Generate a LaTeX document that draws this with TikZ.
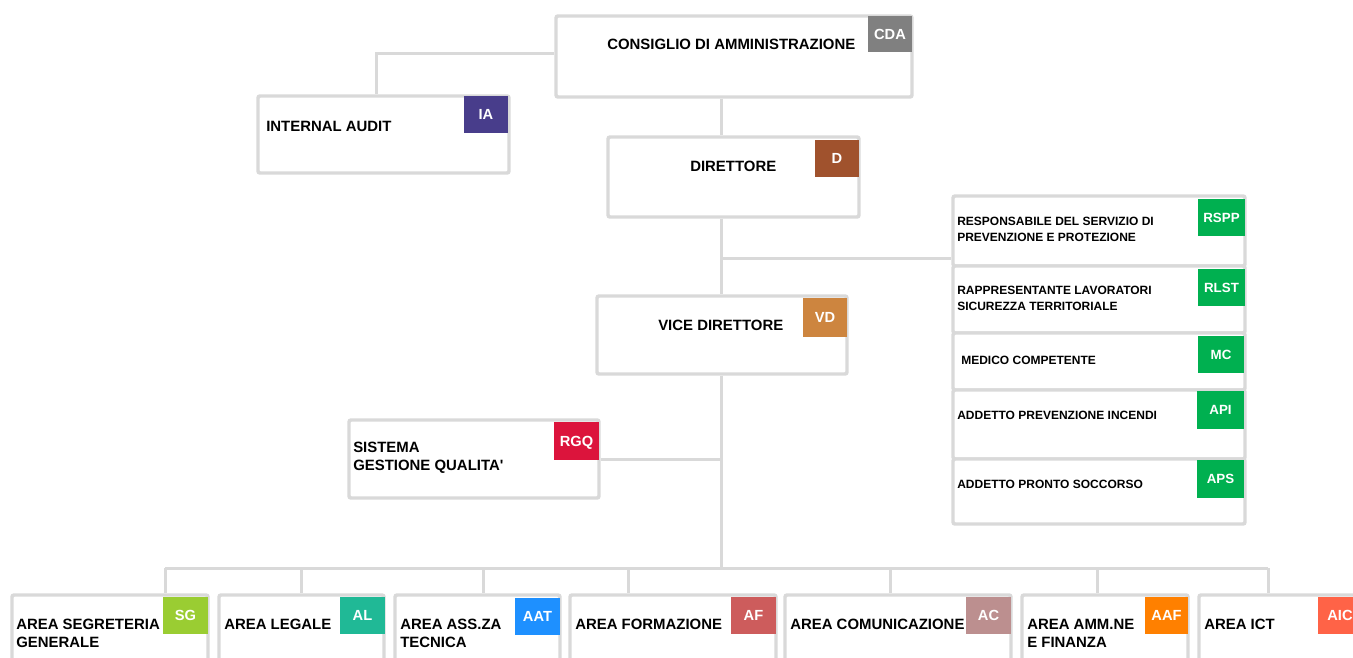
\documentclass[tikz,border=0pt]{standalone}
\usepackage{fontspec}
\setmainfont{Liberation Sans}[Ligatures=TeXOff]
\usetikzlibrary{fit}
\definecolor{linegray}{HTML}{D9D9D9}
\definecolor{ccda}{HTML}{808080}
\definecolor{cia}{HTML}{483D8B}
\definecolor{cd}{HTML}{A0522D}
\definecolor{cvd}{HTML}{CD853F}
\definecolor{crgq}{HTML}{DC143C}
\definecolor{cgreen}{HTML}{00B050}
\definecolor{csg}{HTML}{9ACD32}
\definecolor{cal}{HTML}{20B996}
\definecolor{caat}{HTML}{1E90FF}
\definecolor{caf}{HTML}{CD5C5C}
\definecolor{cac}{HTML}{BC8F8F}
\definecolor{caaf}{HTML}{FF8000}
\definecolor{caic}{HTML}{FF6347}
\begin{document}
\begin{tikzpicture}[x=0.75pt,y=-0.75pt,
  box/.style={draw=linegray, line width=2.6pt, rounded corners=1.5pt, fill=white, inner sep=0pt},
  tag/.style={inner sep=0pt, text=white, text depth=0pt, anchor=center, minimum width=33pt, minimum height=27.75pt, font=\fontsize{11}{13}\selectfont\bfseries},
  rtag/.style={tag, minimum width=35.25pt, font=\fontsize{10}{12}\selectfont\bfseries},
  lbl/.style={inner sep=0pt, anchor=west, align=left, font=\fontsize{11.2}{13.5}\selectfont\bfseries},
  slbl/.style={lbl, font=\fontsize{9}{12}\selectfont\bfseries},
  conn/.style={draw=linegray, line width=2.25pt}]
\useasboundingbox (0,0) rectangle (1353,657);
\fill[white] (0,0) rectangle (1353,657);
\clip (0,0) rectangle (1353,657);

% boxes
\node[box, fit={(556,16) (912,97)}] (cda) {};
\node[box, fit={(258,96) (509,173)}] (ia) {};
\node[box, fit={(608,137) (859,217)}] (d) {};
\node[box, fit={(597,296) (847,374)}] (vd) {};
\node[box, fit={(349,420) (599,498)}] (rgq) {};
\node[box, fit={(953,196) (1245,266)}] (rspp) {};
\node[box, fit={(953,266) (1245,333)}] (rlst) {};
\node[box, fit={(953,333) (1245,390)}] (mc) {};
\node[box, fit={(953,390) (1245,459)}] (api) {};
\node[box, fit={(953,459) (1245,524)}] (aps) {};
\node[box, fit={(12,595) (208,690)}] (sg) {};
\node[box, fit={(219,595) (384,690)}] (al) {};
\node[box, fit={(395,595) (560,690)}] (aat) {};
\node[box, fit={(570,595) (776,690)}] (af) {};
\node[box, fit={(785,595) (1011,690)}] (ac) {};
\node[box, fit={(1022,595) (1188,690)}] (aaf) {};
\node[box, fit={(1199,595) (1362,690)}] (aic) {};

% tags
\node[tag, fill=ccda, minimum height=27pt] (cdatag) at (890,34) {CDA};
\node[tag, fill=cia] (iatag) at (486,114.5) {IA};
\node[tag, fill=cd] (dtag) at (837,158.5) {D};
\node[tag, fill=cvd, minimum height=29.25pt] (vdtag) at (825,317.5) {VD};
\node[tag, fill=crgq, minimum width=33.75pt, minimum height=28.5pt] (rgqtag) at (576.5,441) {RGQ};
\node[rtag, fill=cgreen] (rspptag) at (1221.5,217.5) {RSPP};
\node[rtag, fill=cgreen] (rlsttag) at (1221.5,287.5) {RLST};
\node[rtag, fill=cgreen, minimum width=34.5pt] (mctag) at (1221,354.5) {MC};
\node[rtag, fill=cgreen, minimum height=28.5pt] (apitag) at (1220.5,410) {API};
\node[rtag, fill=cgreen, minimum height=28.5pt] (apstag) at (1220.5,479) {APS};
\node[tag, fill=csg, minimum width=33.75pt] (sgtag) at (185.5,615.5) {SG};
\node[tag, fill=cal, minimum width=33.75pt] (altag) at (362.5,615.5) {AL};
\node[tag, fill=caat, minimum width=33.75pt] (aattag) at (537.5,616.5) {AAT};
\node[tag, fill=caf, minimum width=33.75pt] (aftag) at (753.5,615.5) {AF};
\node[tag, fill=cac, minimum width=33.75pt] (actag) at (988.5,615.5) {AC};
\node[tag, fill=caaf, minimum width=32.25pt] (aaftag) at (1166.5,615.5) {AAF};
\node[tag, fill=caic] (aictag) at (1340,615.5) {AIC};

% labels
\node[lbl] (cdal) at (607,44) {CONSIGLIO DI AMMINISTRAZIONE};
\node[lbl] (ial) at (266,126) {INTERNAL AUDIT};
\node[lbl] (dl) at (690,166) {DIRETTORE};
\node[lbl] (vdl) at (658,325) {VICE DIRETTORE};
\node[lbl] (rgql) at (353,458) {SISTEMA\\GESTIONE QUALITA'};
\node[slbl] (rsppl) at (957,229) {RESPONSABILE DEL SERVIZIO DI\\PREVENZIONE E PROTEZIONE};
\node[slbl] (rlstl) at (957,298) {RAPPRESENTANTE LAVORATORI\\SICUREZZA TERRITORIALE};
\node[slbl] (mcl) at (961,360) {MEDICO COMPETENTE};
\node[slbl] (apil) at (957,415) {ADDETTO PREVENZIONE INCENDI};
\node[slbl] (apsl) at (957,484) {ADDETTO PRONTO SOCCORSO};
\node[lbl] (sgl) at (16,633) {AREA SEGRETERIA\\GENERALE};
\node[lbl] (all) at (224,624) {AREA LEGALE};
\node[lbl] (aatl) at (400,633) {AREA ASS.ZA\\TECNICA};
\node[lbl] (afl) at (575,624) {AREA FORMAZIONE};
\node[lbl] (acl) at (790,624) {AREA COMUNICAZIONE};
\node[lbl] (aafl) at (1027,633) {AREA AMM.NE\\E FINANZA};
\node[lbl] (aicl) at (1204,624) {AREA ICT};

% connectors
\coordinate (iaj) at (376,53);
\draw[conn] (cda.west |- iaj) -| (ia.north -| iaj);
\coordinate (tr) at (721,258);
\draw[conn] (cda.south -| tr) -- (d.north -| tr);
\draw[conn] (d.south -| tr) -- (vd.north -| tr);
\draw[conn] (tr) -- (tr -| rspp.west);
\coordinate (bus) at (721,568);
\draw[conn] (vd.south -| bus) -- (bus);
\draw[conn] (rgq.east) -- (rgq.east -| bus);
\coordinate (b1) at (165,568);
\coordinate (b2) at (301,568);
\coordinate (b3) at (483,568);
\coordinate (b4) at (628,568);
\coordinate (b5) at (890,568);
\coordinate (b6) at (1097,568);
\coordinate (b7) at (1268,568);
\draw[conn] (b1) -- (b7);
\draw[conn] (b1) -- (b1 |- sg.north);
\draw[conn] (b2) -- (b2 |- al.north);
\draw[conn] (b3) -- (b3 |- aat.north);
\draw[conn] (b4) -- (b4 |- af.north);
\draw[conn] (b5) -- (b5 |- ac.north);
\draw[conn] (b6) -- (b6 |- aaf.north);
\draw[conn] (b7) -- (b7 |- aic.north);
\end{tikzpicture}
\end{document}
